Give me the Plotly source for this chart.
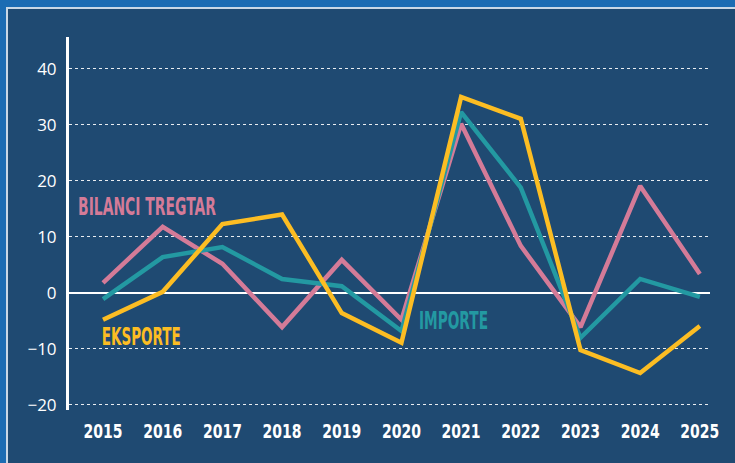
import plotly.graph_objects as go

years = [2015, 2016, 2017, 2018, 2019, 2020, 2021, 2022, 2023, 2024, 2025]
eksporte = [-4.8, 0.2, 12.3, 14.0, -3.6, -8.9, 35.0, 31.1, -10.2, -14.3, -5.9]
importe = [-1.1, 6.4, 8.2, 2.5, 1.2, -6.8, 32.3, 18.8, -8.0, 2.5, -0.7]
bilanci = [1.8, 11.8, 5.2, -6.1, 5.9, -4.8, 30.2, 8.4, -6.1, 19.1, 3.4]
y_ticks = [-20, -10, 0, 10, 20, 30, 40]

W, H = 735, 463
L, R, T, B = 69, 25, 37, 53
pw, ph = W - L - R, H - T - B

def px(x):
    return (x - L) / pw

def py(y):
    return (H - B - y) / ph

fig = go.Figure()
colors = {"pink": "#D47B98", "teal": "#2399A2", "yellow": "#FCBD23"}
for name, vals, c in [("BILANCI TREGTAR", bilanci, colors["pink"]),
                      ("IMPORTE", importe, colors["teal"]),
                      ("EKSPORTE", eksporte, colors["yellow"])]:
    fig.add_trace(go.Scatter(x=years, y=vals, mode="lines", name=name,
                             line=dict(color=c, width=4.5), showlegend=False))

cond = "DejaVu Sans, sans-serif"
labels = [("BILANCI TREGTAR", 147, 207, colors["pink"]),
          ("EKSPORTE", 141, 337, colors["yellow"]),
          ("IMPORTE", 453, 321, colors["teal"])]
for txt, x, y, c in labels:
    fig.add_annotation(x=px(x), y=py(y), xref="paper", yref="paper",
                       xanchor="center", yanchor="middle",
                       text=f"<b>{txt}</b>", showarrow=False,
                       font=dict(family=cond, size=24, color=c))

fig.add_shape(type="rect", xref="paper", yref="paper", layer="below",
              x0=px(7), x1=px(740), y0=py(470), y1=py(8),
              fillcolor="#1F4A72", line=dict(color="#C9D8E6", width=2))

fig.update_layout(
    width=W, height=H,
    margin=dict(l=L, r=R, t=T, b=B),
    paper_bgcolor="#1C6CB3",
    plot_bgcolor="rgba(0,0,0,0)",
    xaxis=dict(range=[2014.43, 2025.17], tickmode="array", tickvals=years,
               ticktext=[f"<b>{y}</b>" for y in years], showgrid=False,
               zeroline=False, showline=False, ticks="", tickangle=0,
               automargin=False,
               tickfont=dict(family=cond, size=20, color="white"),
               ticklabelstandoff=7),
    yaxis=dict(range=[-20.9, 45.7], tickvals=y_ticks, showgrid=True,
               automargin=False,
               gridcolor="rgba(255,255,255,0.9)", griddash="dot", gridwidth=1,
               zeroline=True, zerolinecolor="white", zerolinewidth=2,
               showline=True, linecolor="white", linewidth=3, ticks="",
               tickfont=dict(family="Open Sans, sans-serif", size=17, color="white"),
               ticklabelstandoff=6),
)

post = """
document.body.style.margin='0';
var widths={'BILANCI TREGTAR':138,'EKSPORTE':79,'IMPORTE':69};
function cond(){
  document.querySelectorAll('.xtick text').forEach(function(t){
    t.setAttribute('textLength','39');
    t.setAttribute('lengthAdjust','spacingAndGlyphs');
  });
  document.querySelectorAll('.annotation-text').forEach(function(t){
    var w=widths[t.textContent.trim()];
    if(w){t.setAttribute('textLength',String(w));t.setAttribute('lengthAdjust','spacingAndGlyphs');}
  });
}
cond();
var gd=document.getElementsByClassName('plotly-graph-div')[0];
gd.on('plotly_afterplot', cond);
"""
fig.write_html("out.html", post_script=post, config={"displayModeBar": False})
